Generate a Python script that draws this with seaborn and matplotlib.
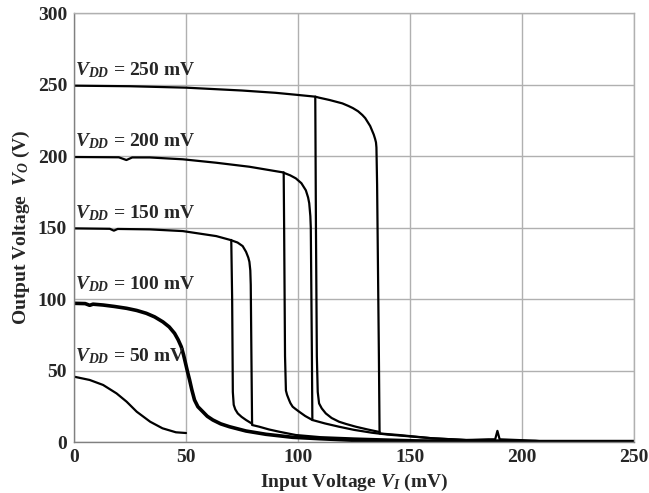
import matplotlib
matplotlib.use("Agg")
import matplotlib.pyplot as plt
import seaborn as sns

# supply voltages of the five sweeps (mV)
vdd_levels = [250, 200, 150, 100, 50]

# VDD = 50 mV (single sweep, 0..50 mV)
vdd50_x = [0, 7, 13, 19, 23.5, 28, 34, 39.5, 45.5, 50]
vdd50_y = [45.7, 43.4, 39.9, 34, 28.2, 21.2, 14.2, 9.6, 6.8, 6.3]

# VDD = 100 mV (no visible hysteresis, traces overlap)
vdd100_x = [0, 5, 7, 8.5, 13, 18, 23.5, 28, 32.3, 36, 39.7, 42.5, 44.9, 46.5,
            47.9, 48.9, 49.8, 50.7, 51.6, 52.6, 53.8, 55.3, 57.5, 59.5, 62,
            65.5, 69.4, 76.8, 85.7, 97.6, 110, 125, 140, 150, 200, 250]
vdd100_y = [97, 96.8, 95.6, 96.4, 95.8, 94.8, 93.5, 92, 90, 87.5, 84, 80.5,
            76, 71.5, 66.6, 61, 55, 49, 43.4, 36.5, 29.4, 24.7, 21.2, 18, 15.4,
            12.7, 10.7, 7.7, 5.4, 3.3, 2.3, 1.2, 0.6, 0.4, 0.3, 0.3]

# VDD = 150 mV: forward sweep (input rising) and return branch
vdd150_fwd_x = [0, 16, 17.8, 19.5, 33.8, 48.6, 63.5, 69.8, 73, 75.3, 76.8, 77.8,
                78.3, 78.7, 78.9, 79.2, 79.5, 82.7, 87, 91.6, 99, 110, 125, 140,
                154, 175, 200, 250]
vdd150_fwd_y = [149.4, 149.1, 147.8, 149, 148.7, 147.5, 144, 141.3, 139.5, 137,
                133, 129, 126, 120, 110, 60, 11.9, 10.7, 8.8, 7.2, 4.9, 3.4, 2.5,
                1.8, 1.2, 0.8, 0.5, 0.3]
vdd150_bwd_x = [79.5, 76.8, 74.8, 73.1, 72, 71.3, 70.9, 70.6, 70.2]
vdd150_bwd_y = [12.8, 15.4, 17.6, 20, 22.8, 26, 35, 100, 141.3]

# VDD = 200 mV
vdd200_fwd_x = [0, 20, 23.4, 26, 33.8, 48.6, 63.5, 78.3, 93.1, 96.5, 99, 101.5,
                103.5, 104.5, 105, 105.5, 105.7, 106.2, 106.4, 112, 118.3, 125,
                133, 140, 148, 160, 175, 200, 208, 250]
vdd200_fwd_y = [199.3, 199.1, 197.2, 199, 199, 197.7, 195.3, 192.5, 188.6, 186.5,
                184.4, 181, 176, 171, 167, 158, 150, 60, 15.4, 13, 10.7, 8.5, 6.5,
                5.2, 4.2, 2.6, 1.4, 0.8, 0.3, 0.3]
vdd200_bwd_x = [106.4, 103.2, 100.5, 98.8, 97.6, 96.6, 96, 95.1, 94.6, 94.2, 93.8,
                93.6]
vdd200_bwd_y = [15.4, 18.2, 21.2, 23.2, 24.7, 27.2, 29.4, 33, 36, 60, 150, 188.6]

# VDD = 250 mV
vdd250_fwd_x = [0, 25, 50, 75, 90, 100, 107.7, 109.4, 114, 119.8, 122.5, 124.5,
                126.8, 128.7, 130, 131, 132.2, 133, 133.8, 134.4, 134.8, 135,
                135.3, 135.7, 136.1, 136.4, 145, 160, 175, 185, 188, 189, 190,
                198, 206, 210, 250]
vdd250_fwd_y = [249.2, 248.8, 247.8, 245.8, 244.2, 242.7, 241.5, 240.8, 239.2,
                236.8, 235, 233.5, 231.3, 228.7, 226.5, 224, 221, 218, 215, 212,
                209.5, 206, 180, 120, 60, 6, 4.9, 2.6, 1.4, 1.9, 1.9, 7.8, 1.9,
                1.4, 0.9, 0.3, 0.3]
vdd250_bwd_x = [136.4, 131, 125.8, 121.5, 118.3, 115, 112.4, 110.6, 109.4, 108.8,
                108.4, 108.0, 107.7]
vdd250_bwd_y = [7.0, 8.8, 10.7, 12.6, 14.2, 16.8, 20, 23.5, 27, 35, 60, 150, 241.5]

x_ticks = [0, 50, 100, 150, 200, 250]
y_ticks = [0, 50, 100, 150, 200, 250, 300]

sns.set_theme(style="whitegrid", font="Liberation Serif")
plt.rcParams.update({
    "font.weight": "bold",
    "axes.labelweight": "bold",
    "mathtext.fontset": "custom",
    "mathtext.rm": "Liberation Serif:bold",
    "mathtext.it": "Liberation Serif:italic:bold",
    "mathtext.bf": "Liberation Serif:bold",
})

fig, ax = plt.subplots(figsize=(6.49, 4.93), dpi=100)
fig.subplots_adjust(left=0.114, right=0.977, top=0.9736, bottom=0.1034)

branches = [
    (vdd50_x, vdd50_y, 1.6),
    (vdd100_x, vdd100_y, 2.6),
    (vdd150_fwd_x, vdd150_fwd_y, 1.6),
    (vdd150_bwd_x, vdd150_bwd_y, 1.6),
    (vdd200_fwd_x, vdd200_fwd_y, 1.6),
    (vdd200_bwd_x, vdd200_bwd_y, 1.6),
    (vdd250_fwd_x, vdd250_fwd_y, 1.6),
    (vdd250_bwd_x, vdd250_bwd_y, 1.6),
]
for bx, by, lw in branches:
    sns.lineplot(x=bx, y=by, sort=False, estimator=None, color="black",
                 linewidth=lw, ax=ax)

for v in vdd_levels:
    ax.text(0.6, v + 6.5, r"$V_{DD}$" + f" = {v} mV", fontsize=14,
            fontweight="bold", va="baseline", ha="left")

ax.set_xlim(0, 250)
ax.set_ylim(0, 300)
ax.set_xticks(x_ticks)
ax.set_yticks(y_ticks)
ax.tick_params(length=0, labelsize=14, pad=5)
ax.grid(True, color="#b0b0b0", linewidth=1)
for side in ["top", "right"]:
    ax.spines[side].set_color("#b0b0b0")
for side in ["left", "bottom"]:
    ax.spines[side].set_color("#808080")
for s in ax.spines.values():
    s.set_linewidth(1)

ax.set_xlabel(r"Input Voltage $V_I$ (mV)", fontsize=14, labelpad=4)
ax.set_ylabel(r"Output Voltage  $V_O$ (V)", fontsize=14, labelpad=4)

fig.savefig("out.png", dpi=100, facecolor="white")
